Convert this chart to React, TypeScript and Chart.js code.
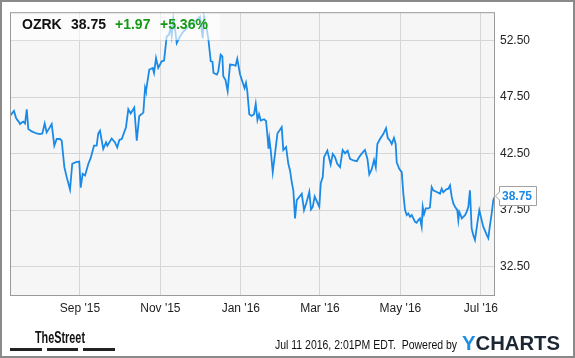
import React, { useEffect, useRef } from "react";
import { Chart, registerables } from "chart.js";

Chart.register(...registerables);

// Day offsets counted from 2015-07-10 (first point of the one-year window)
const dayOffsets = [
  0, 3.0, 4.5, 5.5, 6.6, 7.6, 8.9, 10.1, 11.4, 12.7,
  13.9, 16.5, 20.2, 22.7, 24.5, 26.3, 27.8, 29.8, 31.6, 33.6,
  35.4, 37.9, 39.2, 41.2, 43.0, 45.5, 47.2, 50.0, 52.5, 53.6,
  55.1, 56.9, 59.4, 61.2, 63.7, 65.7, 66.9, 68.2, 70.7, 72.8,
  73.8, 77.1, 79.6, 81.3, 82.9, 84.7, 87.9, 89.7, 91.5, 94.2,
  96.1, 98.0, 101.1, 102.4, 103.1, 105.6, 108.2, 109.2, 110.7, 112.4,
  115.0, 116.8, 118.8, 120.5, 121.8, 122.6, 123.8, 125.1, 126.4, 128.9,
  131.4, 134.0, 136.5, 139.0, 141.0, 144.0, 146.1, 147.1, 148.6, 150.3,
  152.2, 153.5, 154.3, 156.9, 157.9, 159.7, 161.0, 161.7, 163.4, 165.0,
  166.8, 169.3, 171.0, 172.3, 174.4, 176.1, 177.8, 178.9, 179.9, 181.4,
  183.2, 185.0, 186.3, 187.6, 188.8, 190.1, 192.6, 194.1, 195.2, 196.0,
  196.6, 197.7, 199.2, 200.9, 202.8, 204.2, 206.0, 207.2, 209.3, 211.0,
  212.3, 213.6, 214.8, 216.1, 217.4, 219.3, 221.2, 222.9, 224.8, 225.6,
  226.9, 228.2, 229.5, 231.0, 232.8, 234.5, 235.6, 237.1, 238.1, 240.6,
  243.1, 244.7, 246.4, 248.1, 250.2, 252.2, 254.0, 256.0, 257.8, 260.3,
  262.9, 264.6, 267.4, 269.1, 271.0, 272.4, 274.2, 276.0, 277.3, 278.5,
  280.5, 283.0, 285.1, 286.4, 288.1, 289.4, 291.1, 292.4, 293.2, 295.1,
  297.0, 298.2, 299.5, 300.8, 302.0, 303.3, 304.6, 305.8, 307.1, 308.3,
  309.6, 310.8, 312.1, 312.9, 313.9, 315.2, 317.1, 318.4, 319.7, 320.9,
  323.5, 326.0, 327.3, 328.5, 330.8, 332.3, 333.6, 334.9, 336.1, 337.4,
  339.1, 339.9, 340.6, 341.7, 342.5, 343.7, 345.0, 346.2, 347.5, 348.7,
  350.0, 351.2, 352.5, 354.3, 355.8, 357.6, 358.8, 361.4, 362.6, 363.9,
  365.2, 366.4, 367.7,
];

const prices = [
  45.83, 46.27, 45.68, 45.48, 45.33, 45.11, 45.25, 45.33, 45.16, 46.42,
  44.67, 44.46, 44.28, 44.23, 44.28, 45.16, 44.37, 44.75, 45.11, 43.20,
  43.79, 43.79, 43.64, 41.30, 40.42, 39.32, 41.60, 41.74, 41.80, 39.49,
  40.72, 40.57, 41.60, 42.12, 43.20, 43.20, 44.28, 44.52, 42.91, 43.49,
  43.20, 43.84, 43.49, 43.05, 43.70, 43.79, 44.81, 46.42, 46.04, 46.56,
  43.64, 45.83, 46.12, 48.32, 48.03, 49.93, 50.07, 49.63, 50.95, 50.07,
  50.66, 50.72, 52.85, 53.00, 53.64, 52.94, 54.46, 53.58, 52.26, 52.85,
  53.29, 53.58, 53.88, 54.02, 54.25, 54.60, 52.70, 54.60, 53.88, 52.70,
  50.66, 50.63, 49.63, 49.49, 49.78, 51.25, 51.10, 49.34, 49.01, 48.03,
  50.37, 50.35, 50.26, 50.88, 49.52, 48.90, 48.29, 48.75, 48.03, 45.98,
  45.83, 45.98, 46.89, 45.48, 45.98, 45.42, 45.54, 45.39, 44.08, 42.94,
  43.79, 42.76, 40.86, 42.47, 44.30, 44.52, 44.84, 42.82, 43.09, 41.60,
  41.01, 39.98, 39.25, 36.77, 38.38, 38.67, 38.96, 37.50, 38.20, 38.53,
  39.11, 37.56, 37.79, 38.70, 38.23, 37.79, 39.89, 40.42, 42.18, 42.76,
  41.54, 42.47, 42.18, 41.60, 41.30, 42.82, 42.53, 42.76, 42.03, 41.89,
  41.83, 42.18, 42.61, 42.82, 42.03, 40.66, 41.10, 41.93, 41.30, 43.35,
  43.79, 44.23, 44.75, 43.88, 43.64, 43.35, 43.88, 43.35, 41.74, 41.16,
  40.86, 38.96, 37.50, 37.06, 37.21, 36.91, 37.06, 36.77, 36.47, 36.39,
  36.62, 36.77, 36.04, 37.79, 37.15, 37.65, 37.65, 37.74, 39.54, 39.25,
  39.10, 38.96, 39.40, 39.08, 39.34, 39.40, 39.69, 38.67, 38.09, 37.79,
  37.50, 36.62, 37.35, 37.06, 36.77, 36.91, 37.06, 37.35, 37.79, 39.25,
  35.89, 35.31, 34.87, 36.33, 37.50, 36.62, 36.04, 35.31, 35.02, 36.18,
  37.21, 38.38, 38.75,
];

const monthTickDays = [53, 114, 175, 235, 296, 357];
const monthTickLabels = ["Sep '15", "Nov '15", "Jan '16", "Mar '16", "May '16", "Jul '16"];
const priceTicks = [32.5, 37.5, 42.5, 47.5, 52.5];

const ticker = "OZRK";
const lastPriceText = "38.75";
const changeText = "+1.97";
const changePctText = "+5.36%";
const stampText = "Jul 11 2016, 2:01PM EDT.  Powered by";
const brandLeft = "TheStreet";

const FONT = '"Liberation Sans", Arial, sans-serif';
const LINE_BLUE = "#1a8ae6";
const GREEN = "#149a14";

function fitText(ctx: CanvasRenderingContext2D, text: string, x: number, y: number, width: number) {
  const w = ctx.measureText(text).width;
  ctx.save();
  ctx.translate(x, y);
  ctx.scale(width / w, 1);
  ctx.fillText(text, 0, 0);
  ctx.restore();
}

const decorPlugin = {
  id: "decor",
  beforeDraw(chart: any) {
    const { ctx, chartArea: a } = chart;
    ctx.save();
    ctx.fillStyle = "#ffffff";
    ctx.fillRect(0, 0, chart.width, chart.height);
    ctx.fillStyle = "#f6f6f6";
    ctx.fillRect(a.left, a.top, a.right - a.left, a.bottom - a.top);
    ctx.restore();
  },
  afterDatasetsDraw(chart: any) {
    const { ctx, chartArea: a } = chart;
    ctx.save();
    ctx.fillStyle = "rgba(255,255,255,0.62)";
    ctx.fillRect(a.left + 1, a.top + 1, 209, 27);
    ctx.textBaseline = "alphabetic";
    ctx.textAlign = "left";
    ctx.font = `bold 14px ${FONT}`;
    ctx.fillStyle = "#111111";
    ctx.fillText(ticker, 22, 29);
    ctx.fillText(lastPriceText, 71, 29);
    ctx.fillStyle = GREEN;
    ctx.fillText(changeText, 115, 29);
    ctx.fillText(changePctText, 160, 29);
    ctx.restore();
  },
  afterDraw(chart: any) {
    const { ctx, chartArea: a } = chart;
    const xs = chart.scales.x;
    const ys = chart.scales.y;
    ctx.save();
    // plot border
    ctx.strokeStyle = "#9a9a9a";
    ctx.lineWidth = 1;
    ctx.strokeRect(a.left + 0.5, a.top + 0.5, a.right - a.left - 1, a.bottom - a.top);

    // last value flag
    const lx = xs.getPixelForValue(dayOffsets[dayOffsets.length - 1]);
    const ly = ys.getPixelForValue(prices[prices.length - 1]);
    ctx.beginPath();
    ctx.moveTo(lx + 0.5, ly);
    ctx.lineTo(lx + 4.5, ly - 4);
    ctx.lineTo(lx + 4.5, ly - 9.5);
    ctx.lineTo(lx + 41.5, ly - 9.5);
    ctx.lineTo(lx + 41.5, ly + 9.5);
    ctx.lineTo(lx + 4.5, ly + 9.5);
    ctx.lineTo(lx + 4.5, ly + 4);
    ctx.closePath();
    ctx.fillStyle = "#ffffff";
    ctx.fill();
    ctx.strokeStyle = "#a0a0a0";
    ctx.stroke();
    ctx.font = `bold 12px ${FONT}`;
    ctx.fillStyle = LINE_BLUE;
    ctx.textBaseline = "middle";
    ctx.fillText(lastPriceText, lx + 7, ly + 1);

    // footer: TheStreet
    ctx.textBaseline = "alphabetic";
    ctx.fillStyle = "#111111";
    ctx.font = `bold 17px ${FONT}`;
    fitText(ctx, brandLeft, 35, 343, 50);
    ctx.fillStyle = "#222222";
    ctx.fillRect(10, 348, 32, 3);
    ctx.fillRect(47, 348, 31, 3);
    ctx.fillRect(83, 348, 32, 3);

    // stamp
    ctx.fillStyle = "#111111";
    ctx.font = `12px ${FONT}`;
    fitText(ctx, stampText, 275, 349, 182);

    // YCHARTS
    ctx.font = `bold 21px ${FONT}`;
    const wy = ctx.measureText("Y").width;
    const wc = ctx.measureText("CHARTS").width;
    const sx = 98 / (wy + wc);
    ctx.save();
    ctx.translate(462, 350);
    ctx.scale(sx, 1);
    ctx.fillStyle = "#1a8fe3";
    ctx.fillText("Y", 0, 0);
    ctx.fillStyle = "#1c2733";
    ctx.fillText("CHARTS", wy, 0);
    ctx.restore();

    // outer frame
    ctx.strokeStyle = "#8a8a8a";
    ctx.lineWidth = 2;
    ctx.strokeRect(1, 1, chart.width - 2, chart.height - 2);
    ctx.restore();
  },
};

export default function App() {
  const canvasRef = useRef<HTMLCanvasElement | null>(null);

  useEffect(() => {
    document.body.style.margin = "0";
    const canvas = canvasRef.current;
    if (!canvas) return;
    const points = dayOffsets.map((d, i) => ({ x: d, y: prices[i] }));
    const chart = new Chart(canvas, {
      type: "line",
      data: {
        datasets: [
          {
            data: points,
            borderColor: LINE_BLUE,
            borderWidth: 1.8,
            pointRadius: 0,
            tension: 0,
            fill: false,
          },
        ],
      },
      options: {
        animation: false,
        responsive: false,
        devicePixelRatio: 1,
        parsing: true,
        layout: { padding: { left: 10, top: 10, right: 0, bottom: 0 } },
        plugins: { legend: { display: false }, tooltip: { enabled: false } },
        scales: {
          x: {
            type: "linear",
            min: 0,
            max: 367.7,
            afterBuildTicks: (scale: any) => {
              scale.ticks = monthTickDays.map((v) => ({ value: v }));
            },
            afterFit: (scale: any) => {
              scale.height = 63;
            },
            grid: { color: "#d6d6d6", lineWidth: 1, drawTicks: false },
            border: { display: false },
            ticks: {
              autoSkip: false,
              maxRotation: 0,
              padding: 6,
              color: "#222222",
              font: { family: FONT, size: 12 },
              callback: (_v: any, i: number) => monthTickLabels[i],
            },
          },
          y: {
            type: "linear",
            position: "right",
            min: 30,
            max: 55,
            afterBuildTicks: (scale: any) => {
              scale.ticks = priceTicks.map((v) => ({ value: v }));
            },
            afterFit: (scale: any) => {
              scale.width = 80;
            },
            grid: { color: "#d6d6d6", lineWidth: 1, drawTicks: false },
            border: { display: false },
            ticks: {
              padding: 5,
              color: "#222222",
              font: { family: FONT, size: 12 },
              callback: (v: any) => Number(v).toFixed(2),
            },
          },
        },
      },
      plugins: [decorPlugin],
    });
    return () => chart.destroy();
  }, []);

  return (
    <div style={{ width: 575, height: 358 }}>
      <canvas ref={canvasRef} width={575} height={358} style={{ display: "block", width: 575, height: 358 }} />
    </div>
  );
}
